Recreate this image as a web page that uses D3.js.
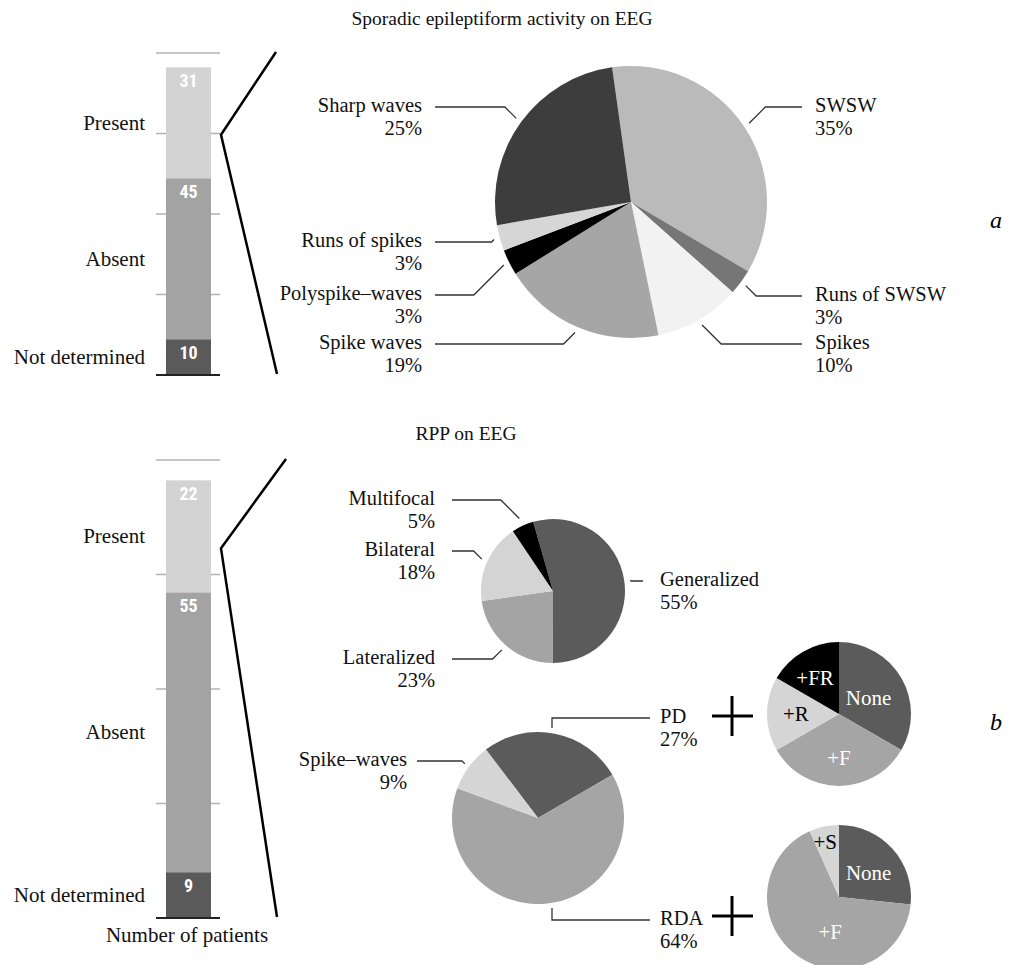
<!DOCTYPE html>
<html><head><meta charset="utf-8">
<script src="https://cdn.jsdelivr.net/npm/d3@7"></script>
<style>body{margin:0;background:#fff}</style>
</head><body>
<svg id="chart" width="1016" height="965"></svg>
<script>
// ---------------- data ----------------
const barCategories = ["Present", "Absent", "Not determined"];
const sporadicCounts = [31, 45, 10];
const rppCounts = [22, 55, 9];
const barTicks = [0, 22.5, 45, 67.5, 90];
const barMax = 90;

const sporadicTypes = ["SWSW", "Runs of SWSW", "Spikes", "Spike waves", "Polyspike–waves", "Runs of spikes", "Sharp waves"];
const sporadicPct = [35, 3, 10, 19, 3, 3, 25];

const rppLocations = ["Generalized", "Lateralized", "Bilateral", "Multifocal"];
const rppLocationPct = [55, 23, 18, 5];

const rppTypes = ["PD", "RDA", "Spike–waves"];
const rppTypePct = [27, 64, 9];

const pdSubtypes = ["None", "+F", "+R", "+FR"];
const pdSubCounts = [2, 2, 1, 1];

const rdaSubtypes = ["None", "+F", "+S"];
const rdaSubCounts = [4, 10, 1];

const titles = ["Sporadic epileptiform activity on EEG", "RPP on EEG"];
const panelLetters = ["a", "b"];
const axisTitle = "Number of patients";

// ---------------- styles ----------------
const SERIF = '"Liberation Serif","Times New Roman",Times,serif';
const NARROW = '"Liberation Sans Narrow","Arial Narrow","Roboto Condensed",sans-serif';
const LABEL_SIZE = 20.5;
const barColors = ["#d3d3d3", "#a3a3a3", "#5a5a5a"];
const sporadicColors = ["#bababa", "#767676", "#f2f2f2", "#a6a6a6", "#000000", "#d6d6d6", "#3d3d3d"];
const locationColors = ["#5b5b5b", "#a4a4a4", "#d4d4d4", "#000000"];
const typeColors = ["#5b5b5b", "#a5a5a5", "#d5d5d5"];
const pdSubColors = ["#5b5b5b", "#a5a5a5", "#d5d5d5", "#000000"];
const pdSubText = ["#fff", "#fff", "#000", "#fff"];
const rdaSubColors = ["#5b5b5b", "#a5a5a5", "#d5d5d5"];
const rdaSubText = ["#fff", "#fff", "#000"];

const svg = d3.select("#chart");
const rad = d => d * Math.PI / 180;

// ---------------- stacked bars ----------------
function drawBar(counts, baseY, topY, bracket) {
  const xL = 166, xR = 211;
  const y = d3.scaleLinear().domain([0, barMax]).range([baseY, topY]);
  const g = svg.append("g");
  g.selectAll("line.grid").data(barTicks.slice(1)).join("line")
    .attr("class", "grid")
    .attr("x1", xL - 10).attr("x2", xR + 9)
    .attr("y1", d => y(d)).attr("y2", d => y(d))
    .attr("stroke", "#b3b3b3").attr("stroke-width", 1.5);
  let acc = 0;
  const segs = [];
  for (let i = counts.length - 1; i >= 0; i--) {
    segs.push({ cat: barCategories[i], v: counts[i], y0: acc, y1: acc + counts[i], i });
    acc += counts[i];
  }
  g.selectAll("rect").data(segs).join("rect")
    .attr("x", xL).attr("width", xR - xL)
    .attr("y", d => y(d.y1)).attr("height", d => y(d.y0) - y(d.y1))
    .attr("fill", d => barColors[d.i]);
  g.append("line").attr("x1", xL - 10).attr("x2", xR + 9)
    .attr("y1", y(0)).attr("y2", y(0)).attr("stroke", "#222").attr("stroke-width", 2);
  g.selectAll("text.count").data(segs).join("text")
    .attr("class", "count")
    .attr("x", (xL + xR) / 2).attr("y", d => y(d.y1) + 20)
    .attr("text-anchor", "middle").attr("fill", "#fff")
    .attr("font-family", NARROW).attr("font-weight", "bold").attr("font-size", 18)
    .text(d => d.v);
  g.selectAll("text.cat").data(segs).join("text")
    .attr("class", "cat")
    .attr("x", 145).attr("y", d => (y(d.y0) + y(d.y1)) / 2 + 7)
    .attr("text-anchor", "end").attr("font-family", SERIF).attr("font-size", 21)
    .attr("fill", "#111")
    .text(d => d.cat);
  // bracket towards the pie
  const present = segs.find(s => s.i === 0);
  const elbowY = (y(present.y0) + y(present.y1)) / 2 + 12;
  g.append("path")
    .attr("d", d3.line()([[bracket[0], y(barMax) - 1], [xR + 10, elbowY], [bracket[1], y(0) - 1]]))
    .attr("fill", "none").attr("stroke", "#000").attr("stroke-width", 2.5);
  return y;
}

drawBar(sporadicCounts, 375, 53, [276, 277]);
drawBar(rppCounts, 918, 460, [286, 277]);

svg.append("text").attr("x", 187).attr("y", 942).attr("text-anchor", "middle")
  .attr("font-family", SERIF).attr("font-size", 21).attr("fill", "#111").text(axisTitle);

// ---------------- pies ----------------
function drawPie(o) {
  const items = o.names.map((n, i) => ({ name: n, v: o.values[i], i }));
  const s0 = rad(o.start);
  const arcs = d3.pie().sort(null).value(d => d.v).startAngle(s0).endAngle(s0 + 2 * Math.PI)(items);
  const arc = d3.arc().innerRadius(0).outerRadius(o.r);
  const g = svg.append("g").attr("transform", `translate(${o.cx},${o.cy})`);
  g.selectAll("path").data(arcs).join("path").attr("d", arc).attr("fill", d => o.colors[d.data.i]);

  if (o.labels) {
    const lg = svg.append("g");
    arcs.forEach(a => {
      const L = o.labels[a.data.i];
      const mid = (a.startAngle + a.endAngle) / 2;
      const rr = o.r + (L.off || 6);
      const left = L.side === "left";
      const lineEnd = left ? o.leftText + o.gap : o.rightText - o.gap;
      let pts;
      if (L.type === "vertical") {
        const ax = o.cx + L.dx;
        const sgn = Math.cos(mid) > 0 ? -1 : 1;
        const ay = o.cy + sgn * Math.sqrt(rr * rr - L.dx * L.dx);
        pts = [[ax, ay], [ax, L.y], [lineEnd, L.y]];
      } else {
        const ax = o.cx + rr * Math.sin(mid), ay = o.cy - rr * Math.cos(mid);
        const dy = Math.abs(L.y - ay);
        pts = [[ax, ay], [ax + (left ? -dy : dy), L.y], [lineEnd, L.y]];
      }
      lg.append("path").attr("d", d3.line()(pts)).attr("fill", "none")
        .attr("stroke", "#333").attr("stroke-width", 1.3);
      const tx = left ? o.leftText : o.rightText;
      const anchor = left ? "end" : "start";
      lg.append("text").attr("x", tx).attr("y", L.y + 5)
        .attr("font-family", SERIF).attr("font-size", LABEL_SIZE)
        .attr("fill", "#111").attr("text-anchor", anchor).text(a.data.name);
      lg.append("text").attr("x", tx).attr("y", L.y + 28)
        .attr("font-family", SERIF).attr("font-size", LABEL_SIZE)
        .attr("fill", "#111").attr("text-anchor", anchor).text(o.values[a.data.i] + "%");
    });
  }
  if (o.inner) {
    arcs.forEach(a => {
      const P = o.inner[a.data.i];
      const ang = P.ang != null ? rad(P.ang) : (a.startAngle + a.endAngle) / 2;
      const rr = o.r * P.f;
      g.append("text").attr("x", rr * Math.sin(ang)).attr("y", -rr * Math.cos(ang))
        .attr("dy", "0.35em").attr("text-anchor", "middle")
        .attr("font-family", SERIF).attr("font-size", 21)
        .attr("fill", o.textColors[a.data.i]).text(a.data.name);
    });
  }
  return arcs;
}

// panel a: sporadic activity types
drawPie({
  cx: 631, cy: 202, r: 136, start: -8,
  names: sporadicTypes, values: sporadicPct, colors: sporadicColors,
  leftText: 422, rightText: 815, gap: 13,
  labels: [
    { side: "right", y: 107 }, { side: "right", y: 296 }, { side: "right", y: 344 },
    { side: "left", y: 344 }, { side: "left", y: 295 }, { side: "left", y: 242 }, { side: "left", y: 107 }
  ]
});

// panel b: RPP location
drawPie({
  cx: 553, cy: 591, r: 72, start: -16,
  names: rppLocations, values: rppLocationPct, colors: locationColors,
  leftText: 435, rightText: 660, gap: 17,
  labels: [
    { side: "right", y: 581 }, { side: "left", y: 659 }, { side: "left", y: 551 }, { side: "left", y: 500, off: 8 }
  ]
});

// panel b: RPP type
drawPie({
  cx: 538, cy: 818, r: 86, start: -37.3,
  names: rppTypes, values: rppTypePct, colors: typeColors,
  leftText: 407, rightText: 660, gap: 10,
  labels: [
    { side: "right", y: 718, type: "vertical", off: 5, dx: 14 },
    { side: "right", y: 920, type: "vertical", off: 5, dx: 14 },
    { side: "left", y: 761, off: 5 }
  ]
});

// sub-pies
drawPie({
  cx: 839, cy: 714, r: 72, start: 0,
  names: pdSubtypes, values: pdSubCounts, colors: pdSubColors, textColors: pdSubText,
  inner: [{ ang: 61, f: 0.47 }, { f: 0.6 }, { f: 0.6 }, { ang: 327, f: 0.61 }]
});
drawPie({
  cx: 839, cy: 897, r: 72, start: 0,
  names: rdaSubtypes, values: rdaSubCounts, colors: rdaSubColors, textColors: rdaSubText,
  inner: [{ ang: 51, f: 0.53 }, { ang: 194, f: 0.5 }, { ang: 346, f: 0.79 }]
});

// plus signs
[716, 916].forEach(cy => {
  svg.append("line").attr("x1", 712).attr("x2", 753).attr("y1", cy).attr("y2", cy)
    .attr("stroke", "#000").attr("stroke-width", 3);
  svg.append("line").attr("x1", 732).attr("x2", 732).attr("y1", cy - 20).attr("y2", cy + 20)
    .attr("stroke", "#000").attr("stroke-width", 3);
});

// titles & panel letters
svg.append("text").attr("x", 502).attr("y", 25).attr("text-anchor", "middle")
  .attr("font-family", SERIF).attr("font-size", 19.5).attr("fill", "#111").text(titles[0]);
svg.append("text").attr("x", 466).attr("y", 440).attr("text-anchor", "middle")
  .attr("font-family", SERIF).attr("font-size", 19.5).attr("fill", "#111").text(titles[1]);
svg.append("text").attr("x", 996).attr("y", 228).attr("text-anchor", "middle")
  .attr("font-family", SERIF).attr("font-style", "italic").attr("font-size", 24).text(panelLetters[0]);
svg.append("text").attr("x", 996).attr("y", 730).attr("text-anchor", "middle")
  .attr("font-family", SERIF).attr("font-style", "italic").attr("font-size", 24).text(panelLetters[1]);
</script>
</body></html>
